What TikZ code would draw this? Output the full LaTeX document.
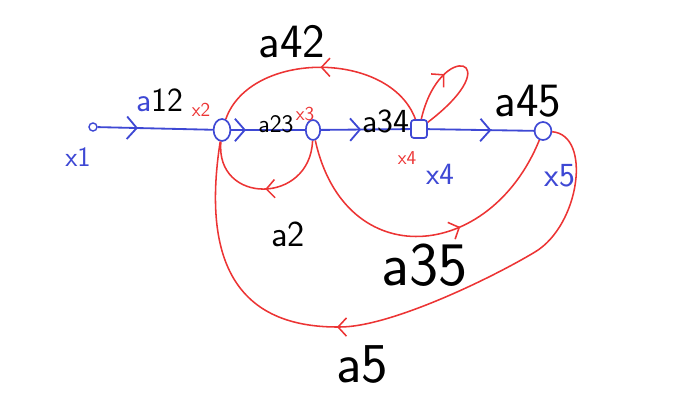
\documentclass[tikz,border=0pt]{standalone}
\usetikzlibrary{arrows.meta, positioning, shapes.geometric, decorations.markings}
\definecolor{penblue}{RGB}{62,72,212}
\definecolor{penred}{RGB}{236,52,52}
\tikzset{
    signal/.style={
        ellipse, draw=penblue, line width=1.2pt, minimum width=0.42cm, minimum height=0.55cm, inner sep=0pt
    },
    sourcenode/.style={
        circle, draw=penblue, line width=1pt, minimum size=0.2cm, inner sep=0pt
    },
    squarenode/.style={
        rectangle, rounded corners=2pt, draw=penblue, line width=1.2pt, minimum width=0.4cm, minimum height=0.45cm, inner sep=0pt
    },
    forward/.style={
        draw=penblue, line width=1.3pt
    },
    feedback/.style={
        draw=penred, line width=1.1pt
    },
    bluetip/.style={
        postaction={decorate},
        decoration={markings, mark=at position #1 with {\arrow[penblue, line width=1.3pt]{Straight Barb[length=7pt, width=16pt]}}}
    },
    redtip/.style={
        postaction={decorate},
        decoration={markings, mark=at position #1 with {\arrow[penred, line width=1.1pt]{Straight Barb[length=6pt, width=13pt]}}}
    },
    gain/.style={
        text=black, inner sep=0pt, font=\sffamily\fontsize{#1}{#1}\selectfont
    },
    varlabel/.style={
        inner sep=0pt, font=\sffamily\fontsize{14}{14}\selectfont
    }
}

\begin{document}
\begin{tikzpicture}[x=0.025cm, y=-0.025cm]

    \useasboundingbox (0,0) rectangle (679,411);

    % Signals
    \node[sourcenode] (n1) at (93,127) {};
    \node[signal] (n2) at (222,130) {};
    \node[signal, minimum width=0.36cm, minimum height=0.5cm] (n3) at (313,130) {};
    \node[squarenode] (n4) at (419,129) {};
    \node[signal, minimum width=0.42cm, minimum height=0.45cm] (n5) at (543,131) {};

    % Signal names
    \node[varlabel, text=penblue, font=\sffamily\fontsize{20}{20}\selectfont] (x1) at (78,157) {x1};
    \node[varlabel, text=penred] (x2) at (201,110) {x2};
    \node[varlabel, text=penred] (x3) at (305,114) {x3};
    \node[varlabel, text=penred] (x4) at (407,158) {x4};
    \node[varlabel, text=penblue, font=\sffamily\fontsize{22}{22}\selectfont] (x4b) at (440,174) {x4};
    \node[varlabel, text=penblue, font=\sffamily\fontsize{24}{24}\selectfont] (x5) at (560,176) {x5};

    % Forward path
    \draw[forward, bluetip=0.35] (n1) -- (n2);
    \draw[forward, bluetip=0.2] (n2) -- (n3);
    \draw[forward, bluetip=0.45] (n3) -- (n4);
    \draw[forward, bluetip=0.6] (n4) -- (n5);

    % Feedback and skip branches
    \draw[feedback, redtip=0.5] (n4) .. controls (390,50) and (250,50) .. (n2);
    \draw[feedback, redtip=0.35] (n4) .. controls (440,38) and (512,58) .. (n4);
    \draw[feedback, redtip=0.5] (n3) .. controls (310,205) and (215,205) .. (n2);
    \draw[feedback, redtip=0.62] (n3) .. controls (345,275) and (490,262) .. (n5);
    \coordinate (bend5) at (535,252);
    \coordinate (low5) at (340,327);
    \draw[feedback, redtip=0.58] (n5) .. controls (592,135) and (580,225) .. (bend5)
        .. controls (490,279) and (390,327) .. (low5)
        .. controls (245,328) and (200,272) .. (n2);

    % Gains
    \node[gain=24] (a12) at (160,100) {{\color{penblue}a}12};
    \node[gain=18] (a23) at (276,124) {a23};
    \node[gain=24] (a34) at (386,121) {a34};
    \node[gain=34] (a45) at (528,101) {a45};
    \node[gain=34] (a42) at (292,42) {a42};
    \node[gain=26] (a2) at (288,234) {a2};
    \node[gain=44] (a35) at (425,265) {a35};
    \node[gain=40] (a5) at (362,365) {a5};

\end{tikzpicture}
\end{document}
